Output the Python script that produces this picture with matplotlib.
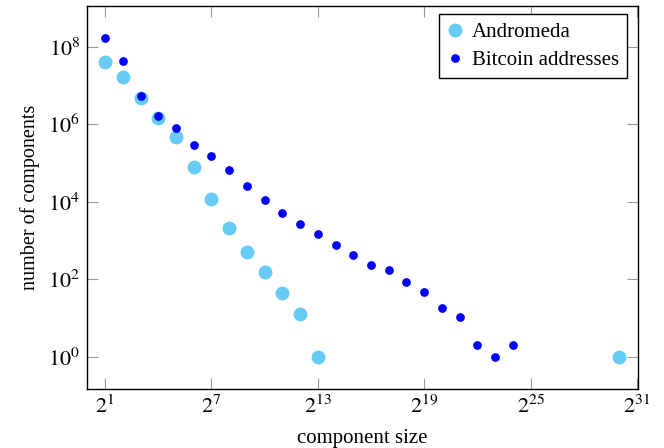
import matplotlib
matplotlib.use("Agg")
import matplotlib.pyplot as plt
import numpy as np

plt.rcParams['font.family'] = ['Liberation Serif', 'DejaVu Serif']
plt.rcParams['mathtext.fontset'] = 'stix'

# Data (x given as powers of two)
andromeda_exp = [1, 2, 3, 4, 5, 6, 7, 8, 9, 10, 11, 12, 13, 30]
andromeda_cnt = [4.0e7, 1.7e7, 4.8e6, 1.45e6, 4.6e5, 8.1e4, 1.2e4, 2100, 520, 160, 44, 13, 1, 1]

bitcoin_exp = list(range(1, 25))
bitcoin_cnt = [1.7e8, 4.4e7, 5.4e6, 1.6e6, 7.8e5, 3.0e5, 1.5e5, 6.5e4, 2.6e4, 1.1e4,
               5.2e3, 2.7e3, 1.5e3, 760, 420, 240, 170, 85, 48, 18.6, 11, 2, 1, 2]

xtick_exp = [1, 7, 13, 19, 25, 31]
ytick_exp = [0, 2, 4, 6, 8]

fig = plt.figure(figsize=(6.64, 4.48), dpi=100)
ax = fig.add_axes([87/664, 1-389/448, 551/664, 383/448])

ax.set_xscale('log', base=2)
ax.set_yscale('log')

ax.plot([2.0**e for e in andromeda_exp], andromeda_cnt, 'o', color='#66ccf5',
        markersize=10, markeredgewidth=0, label='Andromeda', zorder=2)
ax.plot([2.0**e for e in bitcoin_exp], bitcoin_cnt, 'o', color='#0000ff',
        markersize=6.3, markeredgewidth=0, label='Bitcoin addresses', zorder=3)

ax.set_xlim(2.0**-0.02, 2.0**31.06)
ax.set_ylim(10**-0.825, 10**9.05)

ax.set_xticks([2.0**e for e in xtick_exp])
ax.set_xticklabels([r'$2^{%d}$' % e for e in xtick_exp])
ax.set_yticks([10.0**e for e in ytick_exp])
ax.set_yticklabels([r'$10^{%d}$' % e for e in ytick_exp])
ax.minorticks_off()

ax.tick_params(axis='both', which='major', direction='in', length=8, width=0.8,
               color='#999999', top=True, right=True, labelsize=16, pad=5)
for s in ax.spines.values():
    s.set_linewidth(1.0)
    s.set_color('black')

ax.set_xlabel('component size', fontsize=15, labelpad=7.5)
ax.set_ylabel('number of components', fontsize=14.5, labelpad=6)

leg = ax.legend(loc='upper right', bbox_to_anchor=(0.98, 0.979), fontsize=15,
                fancybox=False, framealpha=1, edgecolor='black',
                handlelength=0.7, handletextpad=0.45, borderpad=0.4,
                labelspacing=0.4, borderaxespad=0)
leg.get_frame().set_linewidth(1.0)

fig.savefig('out.png', dpi=100)
